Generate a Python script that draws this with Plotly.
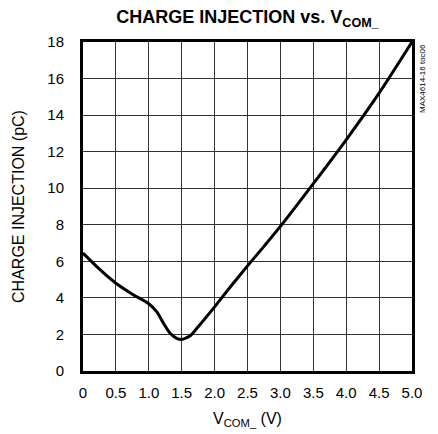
import plotly.graph_objects as go

# Data
vcom = [0, 0.25, 0.5, 0.75, 1.0, 1.125, 1.225, 1.325, 1.425, 1.5, 1.625, 1.75, 2.0, 2.25, 2.5, 2.75, 3.0, 3.5, 4.0, 4.5, 5.0]
charge = [6.45, 5.57, 4.8, 4.2, 3.68, 3.22, 2.6, 2.06, 1.78, 1.72, 1.91, 2.42, 3.51, 4.65, 5.75, 6.82, 7.91, 10.25, 12.65, 15.2, 18.0]

x_ticks = [0, 0.5, 1.0, 1.5, 2.0, 2.5, 3.0, 3.5, 4.0, 4.5, 5.0]
x_labels = ["0", "0.5", "1.0", "1.5", "2.0", "2.5", "3.0", "3.5", "4.0", "4.5", "5.0"]
y_ticks = [0, 2, 4, 6, 8, 10, 12, 14, 16, 18]

FONT = "Liberation Sans Narrow, Arial Narrow, Liberation Sans, Arial, sans-serif"

fig = go.Figure()
fig.add_trace(go.Scatter(
    x=vcom, y=charge, mode="lines",
    line=dict(color="black", width=3, shape="spline", smoothing=0.6),
    showlegend=False, hoverinfo="skip",
))

fig.update_layout(
    width=438, height=434,
    margin=dict(l=83, r=26, t=42, b=63),
    paper_bgcolor="white", plot_bgcolor="white",
    font=dict(family=FONT, size=15, color="black"),
    title=dict(
        text="<b>CHARGE INJECTION vs. V<sub>COM_</sub></b>",
        x=247.5 / 438, xanchor="center", y=1 - 17 / 434, yanchor="middle",
        font=dict(family=FONT, size=18, color="black"),
    ),
)

fig.update_xaxes(
    range=[0, 5], tickmode="array", tickvals=x_ticks, ticktext=x_labels,
    showgrid=True, gridcolor="#333333", gridwidth=1,
    showline=True, linecolor="black", linewidth=3, mirror=True,
    ticks="outside", ticklen=6, tickcolor="rgba(0,0,0,0)", zeroline=False,
    tickfont=dict(family=FONT, size=15), automargin=False,
    title=dict(text="V<sub>COM_</sub> (V)", font=dict(family=FONT, size=16), standoff=13),
)
fig.update_yaxes(
    range=[0, 18], tickmode="array", tickvals=y_ticks,
    showgrid=True, gridcolor="#333333", gridwidth=1,
    showline=True, linecolor="black", linewidth=3, mirror=True,
    ticks="outside", ticklen=13, tickcolor="rgba(0,0,0,0)", zeroline=False,
    tickfont=dict(family=FONT, size=15), automargin=False,
    title=dict(text="CHARGE INJECTION (pC)", font=dict(family=FONT, size=16), standoff=19),
)

fig.add_annotation(
    text="MAX4614-16 toc06", textangle=-90,
    xref="paper", yref="paper", x=1.0, y=1.0, xanchor="left", yanchor="top",
    xshift=4, showarrow=False,
    font=dict(family=FONT, size=8, color="black"),
)

fig.write_html("out.html", config={"displayModeBar": False},
               post_script="document.body.style.margin='0';")
